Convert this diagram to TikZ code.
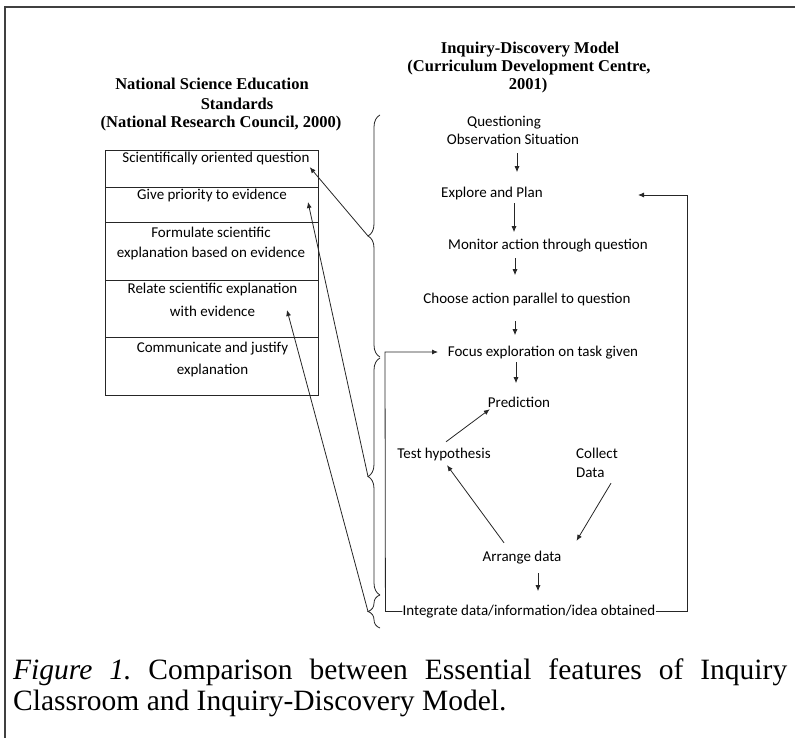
\documentclass[tikz,border=0pt]{standalone}
\usepackage{fontspec}
\setmainfont{Carlito}
\newfontfamily\serifb{Liberation Serif}
\usetikzlibrary{arrows.meta,calc,decorations.pathreplacing}
\frenchspacing
\begin{document}
\begin{tikzpicture}[x=1pt,y=-1pt,
  ln/.style={line width=0.8pt, draw=black!85},
  arr/.style={ln, -{Latex[length=6pt,width=5pt]}},
  lbl/.style={font=\fontsize{15}{18}\selectfont, inner sep=0pt, text height=11pt, text depth=4pt, anchor=base},
  hd/.style={font=\serifb\bfseries\fontsize{16.5}{19}\selectfont, inner sep=0pt, anchor=base},
  captxt/.style={font=\serifb\fontsize{29.5}{32}\selectfont, inner sep=0pt, anchor=base west},
  row/.style={ln, draw, anchor=north west, minimum width=213pt, inner sep=0pt},
  brc/.style={ln, decorate, decoration={brace, amplitude=12pt}},
  frm/.style={line width=1.3pt, draw=black!75}]
\useasboundingbox (0,0) rectangle (795,738);
\draw[frm] (5,738) -- (5,7) -- (795,7);

% headings
\node[hd] (h1) at (212,90) {National Science Education};
\node[hd] (h2) at (237,110) {Standards};
\node[hd] (h3) at (221,128) {(National Research Council, 2000)};
\node[hd] (g1) at (530,54) {Inquiry-Discovery Model};
\node[hd] (g2) at (529,72) {(Curriculum Development Centre,};
\node[hd] (g3) at (528,90) {2001)};

% table
\node[row, minimum height=37pt] (r1) at (105,150) {};
\node[row, minimum height=35pt] (r2) at (105,187) {};
\node[row, minimum height=58pt] (r3) at (105,222) {};
\node[row, minimum height=57pt] (r4) at (105,280) {};
\node[row, minimum height=58pt] (r5) at (105,337) {};
\node[lbl] (t1) at (216,163) {Scientifically oriented question};
\node[lbl] (t2) at (212,200) {Give priority to evidence};
\node[lbl] (t3a) at (211,237) {Formulate scientific};
\node[lbl] (t3b) at (211,258) {explanation based on evidence};
\node[lbl] (t4a) at (212.5,293) {Relate scientific explanation};
\node[lbl] (t4b) at (212.5,316) {with evidence};
\node[lbl] (t5a) at (212.5,352) {Communicate and justify};
\node[lbl] (t5b) at (212.5,374) {explanation};

% braces
\draw[brc] (380,357) -- (380,115);
\draw[brc] (380,595) -- (380,358);
\draw[brc] (380,628) -- (380,595);
\coordinate (b1) at (368,236);
\coordinate (b2) at (368,476.5);
\coordinate (b3) at (368,611.5);
\coordinate (e2) at (308,202);
\coordinate (e3) at (287,310);
\draw[arr] (b1) -- (t1.south east);
\draw[arr] (b2) -- (e2);
\draw[arr] (b3) -- (e3);

% right flow
\node[lbl] (qa) at (504,127) {Questioning};
\node[lbl] (qb) at (513,145) {Observation Situation};
\node[lbl] (ex) at (492,198) {Explore and Plan};
\node[lbl] (mo) at (548,250) {Monitor action through question};
\node[lbl] (ch) at (527,303) {Choose action parallel to question};
\node[lbl] (fo) at (543,356) {Focus exploration on task given};
\node[lbl] (pr) at (519,407) {Prediction};
\node[lbl] (th) at (444,458) {Test hypothesis};
\node[lbl, anchor=base west] (co1) at (576,458) {Collect};
\node[lbl, anchor=base west] (co2) at (576,477) {Data};
\node[lbl] (ar) at (522,561) {Arrange data};
\node[lbl] (in) at (529,615) {Integrate data/information/idea obtained};

\draw[arr] ($(qb.south)+(4,4)$) -- ++(0,19);
\draw[arr] ($(ex.south)+(22,1)$) -- ++(0,29);
\draw[arr] ($(mo.south)+(-33,4)$) -- ++(0,17);
\draw[arr] ($(ch.south)+(-12,14)$) -- ++(0,14);
\draw[arr] ($(fo.south)+(-27,2)$) -- ++(0,21);
\draw[arr] ($(ar.south)+(16,8)$) -- ++(0,18);
\draw[arr] ($(th.north)+(2,-5)$) -- ($(pr.south west)+(2,-2)$);
\draw[arr] ($(co2.south west)+(35,2)$) -- ($(ar.north east)+(15,-9)$);
\draw[arr] ($(ar.north)+(-18,-7)$) -- ($(th.south)+(3,3)$);

\coordinate (exin) at (638,195);
\coordinate (lp) at (385,352);
\coordinate (foin) at (438,352);
\draw[arr] (in.east) -- ++(32,0) |- (exin);
\draw[arr] (in.west) -- ++(-17,0) -- (lp) -- (foin);

% caption
\node[captxt] (c1) at (13,679) {\makebox[774pt][s]{\textit{Figure 1.} Comparison between Essential features of Inquiry}};
\node[captxt] (c2) at (13,710) {Classroom and Inquiry-Discovery Model.};
\end{tikzpicture}
\end{document}
